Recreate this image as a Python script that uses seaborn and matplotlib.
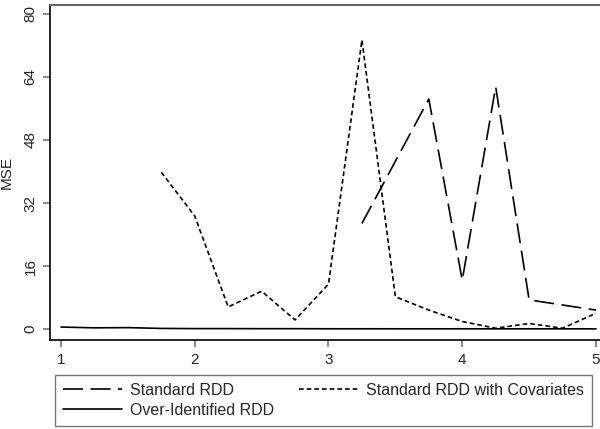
import matplotlib
matplotlib.use("Agg")
import matplotlib.pyplot as plt
import seaborn as sns
import pandas as pd

# Data
x_std = [3.25, 3.5, 3.75, 4.0, 4.25, 4.5, 4.75, 5.0]
y_std = [26.8, 42.6, 58.4, 12.4, 61.5, 7.4, 6.1, 4.8]

x_cov = [1.75, 2.0, 2.25, 2.5, 2.75, 3.0, 3.25, 3.5, 3.75, 4.0, 4.25, 4.5, 4.75, 5.0]
y_cov = [39.8, 28.7, 5.6, 9.6, 2.3, 11.4, 73.4, 8.2, 4.8, 1.9, 0.2, 1.4, 0.2, 4.0]

x_oid = [1.0, 1.25, 1.5, 1.75, 2.0, 2.25, 2.5, 2.75, 3.0, 3.25, 3.5, 3.75, 4.0, 4.25, 4.5, 4.75, 5.0]
y_oid = [0.5, 0.3, 0.35, 0.15, 0.1, 0.1, 0.08, 0.08, 0.06, 0.06, 0.05, 0.05, 0.05, 0.04, 0.04, 0.04, 0.04]

labels = ["Standard RDD", "Standard RDD with Covariates", "Over-Identified RDD"]
x_ticks = [1, 2, 3, 4, 5]
y_ticks = [0, 16, 32, 48, 64, 80]

sns.set_style("white")
plt.rcParams['font.family'] = ['Liberation Sans', 'DejaVu Sans']

fig = plt.figure(figsize=(6.0, 4.29), dpi=100)
ax = fig.add_axes([50/600, 1-340/429, 1-50/600, (340-5)/429])

df_std = pd.DataFrame({"x": x_std, "y": y_std})
df_cov = pd.DataFrame({"x": x_cov, "y": y_cov})
df_oid = pd.DataFrame({"x": x_oid, "y": y_oid})

sns.lineplot(data=df_std, x="x", y="y", ax=ax, color="black", lw=1.2, label=labels[0])
ax.lines[-1].set_dashes([12, 4.5])
sns.lineplot(data=df_cov, x="x", y="y", ax=ax, color="black", lw=1.2, label=labels[1])
ax.lines[-1].set_dashes([2.8, 1.8])
sns.lineplot(data=df_oid, x="x", y="y", ax=ax, color="black", lw=1.2, label=labels[2])

ax.set_xlim(1 - 11/134, 5 + 4/134)
ax.set_ylim(-11/3.94, 80 + 9/3.94)
ax.set_xticks(x_ticks)
ax.set_yticks(y_ticks)
ax.set_yticklabels([str(v) for v in y_ticks], rotation=90, va="center")
ax.tick_params(axis="both", which="both", direction="out", length=5, width=1.2,
               color="#777777", labelsize=11, pad=4, left=True, bottom=True)
ax.set_xlabel("")
ax.set_ylabel("MSE", fontsize=11, labelpad=7)

for s in ["left", "bottom"]:
    ax.spines[s].set_color("black")
    ax.spines[s].set_linewidth(1.2)
ax.spines["top"].set_color("#666666")
ax.spines["top"].set_linewidth(1.5)
ax.spines["right"].set_visible(False)

handles, labs = ax.get_legend_handles_labels()
ax.get_legend().remove()
order = [0, 2, 1]
leg = fig.legend([handles[i] for i in order], [labs[i] for i in order],
                 loc="upper left", ncol=2,
                 bbox_to_anchor=(55/600, 1-375/429),
                 frameon=True, fancybox=False, edgecolor="#555555",
                 fontsize=11.5, handlelength=3.7, handletextpad=0.5, borderaxespad=0,
                 labelspacing=0.3, columnspacing=1.55, borderpad=0.5)
leg.get_frame().set_linewidth(1.0)

fig.savefig("out.png", dpi=100)
